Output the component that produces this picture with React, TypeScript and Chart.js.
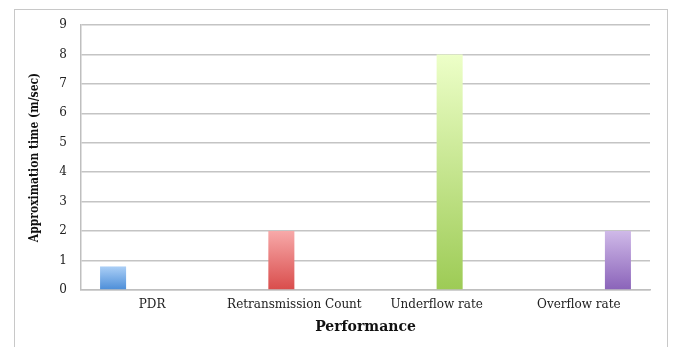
import React, { useEffect, useRef } from "react";
import { Chart, registerables } from "chart.js";

Chart.register(...registerables);

const categories = ["PDR", "Retransmission Count", "Underflow rate", "Overflow rate"];
const pdrValues = [0.8, null, null, null];
const retransmissionValues = [null, 2, null, null];
const underflowValues = [null, null, 8, null];
const overflowValues = [null, null, null, 2];
const seriesNames = ["PDR", "Retransmission Count", "Underflow rate", "Overflow rate"];
const gradientStops = [
  ["#abcff6", "#4b8dd8"],
  ["#f7a9a9", "#d94c4b"],
  ["#edffc8", "#9dcb55"],
  ["#cfb9e8", "#8a63b9"],
];
const yTicks = [0, 1, 2, 3, 4, 5, 6, 7, 8, 9];

export default function App() {
  const ref = useRef<HTMLCanvasElement | null>(null);
  useEffect(() => {
    document.body.style.margin = "0";
    const ctx = ref.current!.getContext("2d")!;
    const allSeries = [pdrValues, retransmissionValues, underflowValues, overflowValues];
    const makeBg = (i: number) => (c: any) => {
      const chart = c.chart;
      const y = chart.scales?.y;
      const v = c.raw;
      if (!y || v == null) return gradientStops[i][1];
      const top = y.getPixelForValue(v);
      const bottom = y.getPixelForValue(0);
      if (!isFinite(top) || !isFinite(bottom) || top === bottom) return gradientStops[i][1];
      const g = chart.ctx.createLinearGradient(0, top, 0, bottom);
      g.addColorStop(0, gradientStops[i][0]);
      g.addColorStop(1, gradientStops[i][1]);
      return g;
    };
    const chart = new Chart(ctx, {
      type: "bar",
      data: {
        labels: categories,
        datasets: allSeries.map((d, i) => ({
          label: seriesNames[i],
          data: d,
          backgroundColor: makeBg(i),
          borderWidth: 0,
          barPercentage: 1,
          categoryPercentage: 0.732,
        })),
      },
      options: {
        animation: false,
        responsive: false,
        layout: { padding: { left: 0, right: 25, top: 25, bottom: 0 } },
        plugins: { legend: { display: false }, tooltip: { enabled: false } },
        scales: {
          x: {
            afterFit: (s: any) => {
              s.height = 57;
            },
            grid: { display: false, drawTicks: false },
            border: { display: true, color: "#bfbfbf", width: 1.5 },
            ticks: {
              padding: 8,
              color: "#222",
              font: { family: "DejaVu Serif", size: 12 },
              maxRotation: 0,
              autoSkip: false,
            },
            title: {
              display: true,
              text: "Performance",
              color: "#111",
              font: { family: "DejaVu Serif", size: 14, weight: "bold" },
              padding: { top: 0, bottom: 11 },
            },
          },
          y: {
            min: 0,
            max: 9,
            afterFit: (s: any) => {
              s.width = 81;
            },
            afterBuildTicks: (s: any) => {
              s.ticks = yTicks.map((v) => ({ value: v }));
            },
            grid: { color: "#c4c4c4", lineWidth: 1.5, drawTicks: false },
            border: { display: true, color: "#bfbfbf", width: 1.5 },
            ticks: {
              padding: 14,
              color: "#222",
              font: { family: "DejaVu Serif", size: 12 },
            },
            title: {
              display: true,
              text: "Approximation time (m/sec)",
              color: "#111",
              font: { family: "DejaVu Serif Condensed", size: 12, weight: "bold" },
              padding: { top: 28, bottom: 0 },
            },
          },
        },
      },
    });
    return () => chart.destroy();
  }, []);
  return (
    <div style={{ position: "fixed", left: 0, top: 0, width: 675, height: 347, background: "#fff" }}>
      <div
        style={{
          position: "absolute",
          left: 14,
          top: 9,
          width: 654,
          height: 345,
          border: "1px solid #c8c8c8",
          boxSizing: "border-box",
        }}
      />
      <canvas ref={ref} width={675} height={347} style={{ position: "absolute", left: 0, top: 0 }} />
    </div>
  );
}
